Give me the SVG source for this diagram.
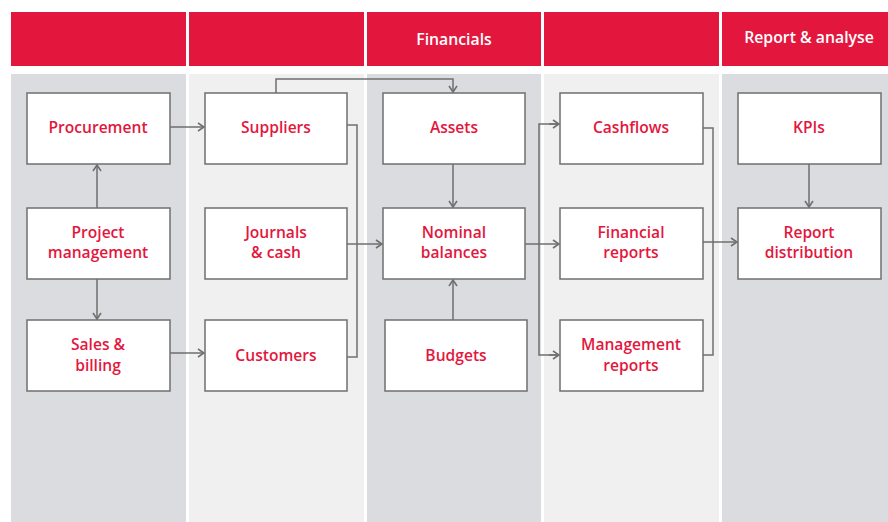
<svg xmlns="http://www.w3.org/2000/svg" width="888" height="522" viewBox="0 0 888 522">
<style>
.hdr{fill:#e3173e}
.dk{fill:#dbdcdf}
.lt{fill:#f0f0f0}
.box{fill:#fff;stroke:#6f6f6f;stroke-width:1.5}
.ht{fill:#fff;font-family:"Open Sans","Liberation Sans",sans-serif;font-weight:600;font-size:15.8px;text-anchor:middle}
.nt{fill:#e3173e;font-family:"Open Sans","Liberation Sans",sans-serif;font-weight:600;font-size:15.6px;text-anchor:middle}
.c{fill:none;stroke:#6f6f6f;stroke-width:1.5}
</style>
<defs>
<marker id="ar" viewBox="0 0 8 10" refX="7" refY="5" markerWidth="8" markerHeight="10" markerUnits="userSpaceOnUse" orient="auto">
<path d="M1,1 L7,5 L1,9" fill="none" stroke="#6f6f6f" stroke-width="1.6"/>
</marker>
</defs>
<rect width="888" height="522" fill="#fff"/>
<g id="headers">
<rect class="hdr" x="11" y="12" width="175" height="54"/>
<rect class="hdr" x="189" y="12" width="175" height="54"/>
<rect class="hdr" x="367" y="12" width="174" height="54"/>
<rect class="hdr" x="544" y="12" width="175" height="54"/>
<rect class="hdr" x="722" y="12" width="166" height="54"/>
<text class="ht" x="454" y="45">Financials</text>
<text class="ht" x="809" y="43">Report &amp; analyse</text>
</g>
<g id="lanes">
<rect class="dk" x="11" y="74" width="175" height="448"/>
<rect class="lt" x="189" y="74" width="175" height="448"/>
<rect class="dk" x="367" y="74" width="174" height="448"/>
<rect class="lt" x="544" y="74" width="175" height="448"/>
<rect class="dk" x="722" y="74" width="166" height="448"/>
</g>
<g id="connectors">
<path class="c" d="M170,127 H204" marker-end="url(#ar)"/>
<path class="c" d="M97,208 V165" marker-end="url(#ar)"/>
<path class="c" d="M97,279 V319" marker-end="url(#ar)"/>
<path class="c" d="M170,353 H204" marker-end="url(#ar)"/>
<path class="c" d="M276,93 V79 H453 V92" marker-end="url(#ar)"/>
<path class="c" d="M347,125 H357 V357 H347"/>
<path class="c" d="M347,244 H382" marker-end="url(#ar)"/>
<path class="c" d="M453,164 V207" marker-end="url(#ar)"/>
<path class="c" d="M453,320 V280" marker-end="url(#ar)"/>
<path class="c" d="M525,244 H559" marker-end="url(#ar)"/>
<path class="c" d="M559,124 H539 V355 H559" />
<path class="c" d="M549,124 H559" marker-end="url(#ar)"/>
<path class="c" d="M549,355 H559" marker-end="url(#ar)"/>
<path class="c" d="M703,128 H713 V355 H703"/>
<path class="c" d="M703,242 H737" marker-end="url(#ar)"/>
<path class="c" d="M809,164 V207" marker-end="url(#ar)"/>
</g>
<g id="procurement"><rect class="box" x="27" y="93" width="143" height="71"/><text class="nt" x="98" y="133">Procurement</text></g>
<g id="project-management"><rect class="box" x="27" y="208" width="143" height="71"/><text class="nt" x="98" y="238">Project</text><text class="nt" x="98" y="258">management</text></g>
<g id="sales-billing"><rect class="box" x="27" y="320" width="143" height="71"/><text class="nt" x="98" y="350">Sales &amp;</text><text class="nt" x="98" y="371">billing</text></g>
<g id="suppliers"><rect class="box" x="205" y="93" width="142" height="71"/><text class="nt" x="276" y="133">Suppliers</text></g>
<g id="journals-cash"><rect class="box" x="205" y="208" width="142" height="71"/><text class="nt" x="276" y="238">Journals</text><text class="nt" x="276" y="258">&amp; cash</text></g>
<g id="customers"><rect class="box" x="205" y="320" width="142" height="71"/><text class="nt" x="276" y="361">Customers</text></g>
<g id="assets"><rect class="box" x="383" y="93" width="142" height="71"/><text class="nt" x="454" y="133">Assets</text></g>
<g id="nominal-balances"><rect class="box" x="383" y="208" width="142" height="71"/><text class="nt" x="454" y="238">Nominal</text><text class="nt" x="454" y="258">balances</text></g>
<g id="budgets"><rect class="box" x="385" y="320" width="142" height="71"/><text class="nt" x="456" y="361">Budgets</text></g>
<g id="cashflows"><rect class="box" x="560" y="93" width="143" height="71"/><text class="nt" x="631" y="133">Cashflows</text></g>
<g id="financial-reports"><rect class="box" x="560" y="208" width="143" height="71"/><text class="nt" x="631" y="238">Financial</text><text class="nt" x="631" y="258">reports</text></g>
<g id="management-reports"><rect class="box" x="560" y="320" width="143" height="71"/><text class="nt" x="631" y="350">Management</text><text class="nt" x="631" y="371">reports</text></g>
<g id="kpis"><rect class="box" x="738" y="93" width="143" height="71"/><text class="nt" x="809" y="133">KPIs</text></g>
<g id="report-distribution"><rect class="box" x="738" y="208" width="143" height="71"/><text class="nt" x="809" y="238">Report</text><text class="nt" x="809" y="258">distribution</text></g>
</svg>
